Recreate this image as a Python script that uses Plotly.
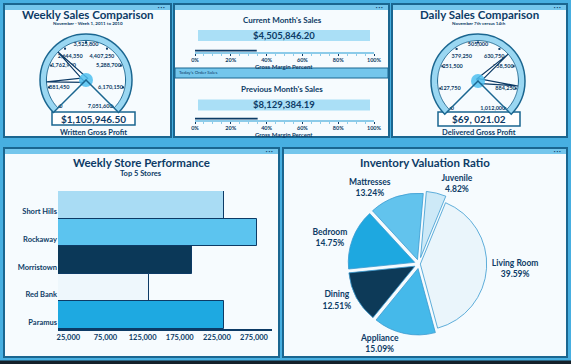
import plotly.graph_objects as go
import numpy as np

W, H = 571, 364

# ---------------- data ----------------
weekly_gauge_max = 7051600
weekly_tick_values = [0, 881450, 1762900, 2644350, 3525800, 4407250, 5288700, 6170150, 7051600]
weekly_tick_labels = ["0", "881,450", "1,762,900", "2,644,350", "3,525,800", "4,407,250",
                      "5,288,700", "6,170,150", "7,051,600"]
weekly_needles = [1105946.50, 2350000]
weekly_value_text = "$1,105,946.50"

daily_gauge_max = 1012000
daily_tick_values = [0, 126500, 253000, 379500, 506000, 632500, 759000, 885500, 1012000]
daily_tick_labels = ["0", "127,750", "251,500", "379,250", "505,000", "630,750",
                     "758,500", "884,250", "1,012,000"]
daily_needles = [687000, 870000]
daily_value_text = "$69, 021.02"

month_titles = ["Current Month's Sales", "Previous Month's Sales"]
month_sales = ["$4,505,846.20", "$8,129,384.19"]
month_margin_pct = [34.5, 35.0]
margin_ticks = [0, 20, 40, 60, 80, 100]

stores = ["Short Hills", "Rockaway", "Morristown", "Red Bank", "Paramus"]
store_sales = [235000, 279000, 192000, 133000, 234500]
store_ticks = [25000, 75000, 125000, 175000, 225000, 275000]

inv_labels = ["Juvenile", "Living Room", "Appliance", "Dining", "Bedroom", "Mattresses"]
inv_pct = [4.82, 39.59, 15.09, 12.51, 14.75, 13.24]

# ---------------- style ----------------
NAVY = "#0d3b66"
BORDER = "#1a6690"
FRAME = "#47afe1"
PANEL = "#f6fbfe"
STRIP = "#74c6ec"
RING = "#9ad7f2"
FONT = "Lato"
store_colors = ["#a9dcf4", "#5cc4ef", "#0b3858", "#eef7fc", "#1ea9e1"]
inv_colors = ["#cde9f7", "#eaf5fb", "#45b9ea", "#0d3a58", "#1ea8e0", "#62c3ed"]


def fx(x):
    return x / W


def fy(y):
    return 1 - y / H


def b(s):
    return "<b>%s</b>" % s


fig = go.Figure()
shapes = []
annotations = []


def ann(text, x, y, size, bold=True, color=NAVY, xanchor="center", yanchor="middle"):
    annotations.append(dict(text=b(text) if bold else text, x=fx(x), y=fy(y),
                            xref="paper", yref="paper", showarrow=False,
                            xanchor=xanchor, yanchor=yanchor,
                            font=dict(family=FONT, size=size, color=color)))


def rect(x0, y0, x1, y1, fill, line=BORDER, width=1.5):
    shapes.append(dict(type="rect", xref="paper", yref="paper", x0=fx(x0), x1=fx(x1),
                       y0=fy(y1), y1=fy(y0), fillcolor=fill,
                       line=dict(color=line, width=width), layer="below"))


def panel(x0, y0, x1, y1):
    rect(x0, y0, x1, y1, PANEL, BORDER, 2)
    rect(x0 + 1, y0 + 1, x1 - 1, y0 + 6, STRIP, STRIP, 0)
    ann("\u25aa \u25aa \u25aa", x1 - 4, y0 + 3.5, 4, bold=False, color=NAVY, xanchor="right")


# panels
panel(4, 4, 171, 137)
panel(174, 4, 389, 137)
panel(392, 4, 567, 137)
panel(4, 148, 279, 357)
panel(283, 148, 567, 357)
# middle divider strip
rect(175, 68, 388, 78, STRIP, BORDER, 1)
ann("Today's Order Sales", 177, 73, 4.5, bold=False, xanchor="left")
# bottom dark edge of photo
shapes.append(dict(type="rect", xref="paper", yref="paper", x0=0, x1=1, y0=0, y1=fy(360.5),
                   fillcolor="#14202a", line=dict(width=0), layer="below"))


# ---------------- gauges ----------------
def label_place(theta_deg):
    """radius and text position of a dial label, from its angle on the dial"""
    a = np.deg2rad(225 - theta_deg)
    c, s = np.cos(a), np.sin(a)
    if s > 0.5 and abs(c) < 0.3:
        return 0.83, "bottom center"
    if s > 0.5:
        return 0.62, "middle center"
    return 0.82, ("middle right" if c < 0 else "middle left")


def gauge(pname, gmax, tvals, tlabels, needles):
    arc = np.linspace(0, 270, 181)
    fig.add_trace(go.Scatterpolar(r=[0.93] * len(arc), theta=arc, mode="lines",
                                  line=dict(color=RING, width=6), subplot=pname, hoverinfo="skip"))
    fig.add_trace(go.Scatterpolar(r=[0.86] * len(arc), theta=arc, mode="lines",
                                  line=dict(color=BORDER, width=1), subplot=pname, hoverinfo="skip"))
    th = [v / gmax * 270 for v in tvals]
    fig.add_trace(go.Scatterpolar(r=[0.82] * len(th), theta=th, mode="markers",
                                  marker=dict(symbol="square", size=2, color=NAVY),
                                  cliponaxis=False, subplot=pname, hoverinfo="skip"))
    places = [label_place(t) for t in th]
    fig.add_trace(go.Scatterpolar(r=[p[0] for p in places], theta=th, mode="text",
                                  marker=dict(size=2),
                                  text=[b(t) for t in tlabels],
                                  textposition=[p[1] for p in places],
                                  textfont=dict(family=FONT, size=5.5, color=NAVY),
                                  cliponaxis=False, subplot=pname, hoverinfo="skip"))
    for v in needles:
        t = v / gmax * 270
        fig.add_trace(go.Scatterpolar(r=[0.05, 0.86, 0.05, 0.05], theta=[t - 90, t, t + 90, t - 90],
                                      mode="lines", fill="toself", fillcolor="white",
                                      line=dict(color=NAVY, width=1.2), subplot=pname,
                                      hoverinfo="skip"))
    fig.add_trace(go.Scatterpolar(r=[0], theta=[0], mode="markers",
                                  marker=dict(size=14, color="#4fc0f0", opacity=0.85,
                                              line=dict(width=0)),
                                  subplot=pname, hoverinfo="skip"))


gauge("polar", weekly_gauge_max, weekly_tick_values, weekly_tick_labels, weekly_needles)
gauge("polar2", daily_gauge_max, daily_tick_values, daily_tick_labels, daily_needles)


def polar_layout(cx, cy, R):
    return dict(domain=dict(x=[fx(cx - R), fx(cx + R)], y=[fy(cy + 0.7071 * R), fy(cy - R)]),
                sector=[-45, 225], bgcolor="rgba(0,0,0,0)",
                radialaxis=dict(range=[0, 1], visible=False),
                angularaxis=dict(rotation=225, direction="clockwise", showgrid=False,
                                 showticklabels=False, ticks="", showline=True,
                                 linecolor=BORDER, linewidth=1.5))


# gauge texts
ann("Weekly Sales Comparison", 88, 15, 11.5)
ann("November - Week 1, 2011 to 2010", 88, 23.5, 4.5)
rect(52, 112, 135, 125, "white", BORDER, 1.5)
ann(weekly_value_text, 93.5, 118.7, 10)
ann("Written Gross Profit", 93.5, 132, 7.5)

ann("Daily Sales Comparison", 479, 15, 11.5)
ann("November 7th versus 14th", 479, 23.5, 4.5)
rect(438, 112, 520, 126, "white", BORDER, 1.5)
ann(daily_value_text, 479, 119.2, 10)
ann("Delivered Gross Profit", 479, 132.5, 7.5)

# ---------------- month bullets ----------------
month_rows = [(20, 35.5, 51.5), (89, 105, 119.5)]
for i, (ty, by, ly) in enumerate(month_rows):
    xa = "x" if i == 0 else "x2"
    ya = "y" if i == 0 else "y2"
    ann(month_titles[i], 282, ty, 8)
    rect(198, by - 5.5, 370, by + 5.5, "#aadff6", "#aadff6", 0)
    ann(month_sales[i], 284, by, 9.5)
    fig.add_trace(go.Scatter(x=[0, month_margin_pct[i]], y=[0, 0], mode="lines",
                             line=dict(color=NAVY, width=3.5), xaxis=xa, yaxis=ya,
                             cliponaxis=False, hoverinfo="skip"))
    ann("Gross Margin Percent", 284, ly + 15, 6)

axis_common = dict(range=[0, 100], tickvals=margin_ticks,
                   ticktext=[b("%d%%" % t) for t in margin_ticks],
                   showgrid=False, zeroline=False, showline=True, linecolor="#8ccbe9",
                   linewidth=2, ticks="outside", ticklen=2, tickcolor=NAVY, tickwidth=1,
                   minor=dict(dtick=5, ticks="outside", ticklen=2, tickcolor="#8ccbe9"),
                   tickfont=dict(family=FONT, size=5.5, color=NAVY), automargin=False)

# ---------------- store bars ----------------
fig.add_trace(go.Bar(y=stores, x=store_sales, orientation="h",
                     marker=dict(color=store_colors, line=dict(color=NAVY, width=1)),
                     xaxis="x3", yaxis="y3", hoverinfo="skip"))
ann("Weekly Store Performance", 141, 162, 11.5)
ann("Top 5 Stores", 141, 173, 7.5)

# ---------------- pie ----------------
fig.add_trace(go.Pie(labels=inv_labels, values=inv_pct, sort=False, direction="clockwise",
                     rotation=5, marker=dict(colors=inv_colors, line=dict(color="#3a9bd0", width=0.8)),
                     pull=[0.1, 0.02, 0.07, 0.07, 0.07, 0.07],
                     textposition="outside", automargin=False,
                     texttemplate="<b>%{label}</b><br><b>%{value:.2f}%</b>",
                     textfont=dict(family=FONT, size=8.5, color=NAVY),
                     domain=dict(x=[fx(341), fx(497)], y=[fy(337), fy(191)]),
                     hoverinfo="skip", showlegend=False))
ann("Inventory Valuation Ratio", 425, 162, 11.5)

fig.update_layout(
    width=W, height=H, autosize=False,
    margin=dict(l=0, r=0, t=0, b=0, pad=0, autoexpand=False),
    paper_bgcolor=FRAME, plot_bgcolor="rgba(0,0,0,0)", showlegend=False,
    polar=polar_layout(86, 80, 46),
    polar2=polar_layout(478, 81, 47),
    xaxis=dict(domain=[fx(195), fx(374)], anchor="y", **axis_common),
    yaxis=dict(domain=[fy(51.5), fy(44)], range=[0, 1], visible=False, anchor="x",
               automargin=False),
    xaxis2=dict(domain=[fx(195), fx(374)], anchor="y2", **axis_common),
    yaxis2=dict(domain=[fy(119.5), fy(112)], range=[0, 1], visible=False, anchor="x2",
                automargin=False),
    xaxis3=dict(domain=[fx(58), fx(272)], anchor="y3", range=[11100, 299200],
                tickvals=store_ticks, ticktext=[b("{:,}".format(t)) for t in store_ticks],
                showgrid=False, zeroline=False, automargin=False,
                showline=True, linecolor=NAVY, linewidth=2, ticks="",
                tickfont=dict(family=FONT, size=7.5, color=NAVY)),
    yaxis3=dict(domain=[fy(329), fy(191)], anchor="x3", categoryorder="array",
                categoryarray=stores, autorange="reversed", showgrid=False,
                tickvals=stores, ticktext=[b(s) for s in stores], automargin=False,
                showline=False, ticks="", ticklabelshift=-7,
                tickfont=dict(family=FONT, size=7.5, color=NAVY)),
    bargap=0,
    shapes=shapes, annotations=annotations,
)

fig.write_html("out.html", config={"displayModeBar": False, "responsive": False},
               post_script="document.body.style.margin='0';document.body.style.padding='0';"
                           "document.body.style.overflow='hidden';")
